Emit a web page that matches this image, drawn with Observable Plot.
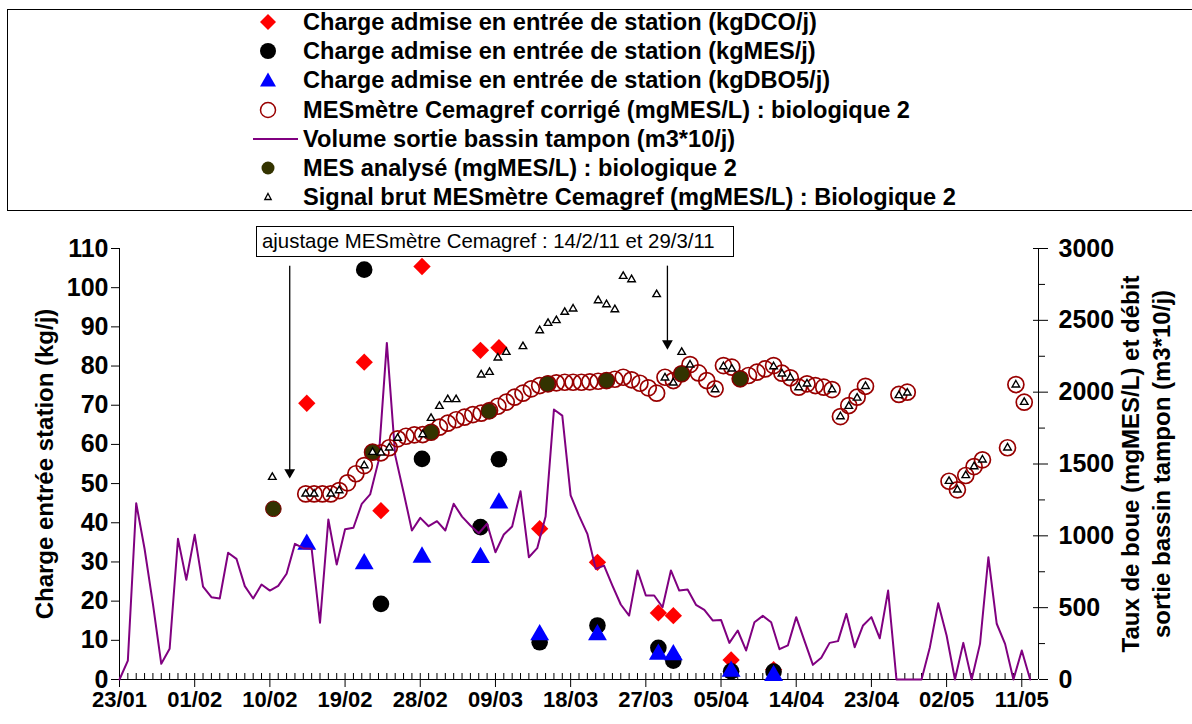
<!DOCTYPE html>
<html><head><meta charset="utf-8">
<script src="https://cdn.jsdelivr.net/npm/d3@7"></script>
<script src="https://cdn.jsdelivr.net/npm/@observablehq/plot@0.6"></script>
<style>
body{margin:0;background:#fff;}
#wrap{position:relative;width:1192px;height:724px;overflow:hidden;background:#fff;font-family:"Liberation Sans",Arial,sans-serif;color:#000;}
#legend{position:absolute;left:7px;top:9px;width:1300px;height:202px;border:1px solid #000;box-sizing:border-box;}
.row{position:absolute;left:0;height:28px;width:1200px;}
.row svg{position:absolute;left:240px;top:0;}
.row span{position:absolute;left:295px;top:0;line-height:28px;font-size:23.6px;font-weight:bold;white-space:nowrap;}
#note{position:absolute;left:256px;top:226px;width:478px;height:31px;border:1px solid #000;box-sizing:border-box;background:#fff;font-size:20.4px;line-height:29px;padding-left:5px;white-space:nowrap;}
</style></head>
<body>
<div id="wrap">
  <div id="legend"></div>
  <div id="chart"></div>
  <div id="note">ajustage MESmètre Cemagref : 14/2/11 et 29/3/11</div>
</div>
<script>
// ---------- axis ticks ----------
const xStart = "2011-01-23", xEnd = "2011-05-13";
const xTickDates = ["2011-01-23","2011-02-01","2011-02-10","2011-02-19","2011-02-28","2011-03-09","2011-03-18","2011-03-27","2011-04-05","2011-04-14","2011-04-23","2011-05-02","2011-05-11"];
const xTickLabels = ["23/01","01/02","10/02","19/02","28/02","09/03","18/03","27/03","05/04","14/04","23/04","02/05","11/05"];
const leftTicks = [0,10,20,30,40,50,60,70,80,90,100,110];
const rightTicks = [0,500,1000,1500,2000,2500,3000];
const rightMinorTicks = [250,750,1250,1750,2250,2750];

// ---------- left axis series (kg/j) ----------
const dcoDates = ["2011-02-14T10:00","2011-02-21T07:00","2011-02-23T07:00","2011-02-28T05:00","2011-03-07T05:00","2011-03-09T10:00","2011-03-14T07:00","2011-03-21T05:00","2011-03-28T12:00","2011-03-30T07:00","2011-04-06T05:00","2011-04-11T07:00"];
const dcoValues = [70.5,81.0,43.1,105.4,84.0,84.7,38.5,29.9,17.0,16.3,5.0,2.5];
const mesDates = ["2011-02-21T07:00","2011-02-23T07:00","2011-02-28T05:00","2011-03-07T05:00","2011-03-09T10:00","2011-03-14T07:00","2011-03-21T05:00","2011-03-28T12:00","2011-03-30T07:00","2011-04-06T05:00","2011-04-11T07:00"];
const mesValues = [104.6,19.3,56.3,38.9,56.2,9.5,13.8,8.1,4.8,2.1,2.0];
const dboDates = ["2011-02-14T10:00","2011-02-21T07:00","2011-02-28T05:00","2011-03-07T05:00","2011-03-09T10:00","2011-03-14T07:00","2011-03-21T05:00","2011-03-28T12:00","2011-03-30T07:00","2011-04-06T05:00","2011-04-11T07:00"];
const dboValues = [34.5,29.5,31.2,31.1,45.0,11.4,11.4,6.4,6.3,2.1,1.0];

// ---------- right axis series ----------
// Volume sortie bassin tampon (m3*10/j), one value per day from volumeStart
const volumeStart = "2011-01-23T00:00";
const volumeValues = [
 0,132,1227,910,527,109,214,979,694,1007,
 647,573,564,882,840,650,564,661,619,652,
 736,944,914,910,395,1114,800,1046,1056,1223,
 1288,1520,2343,1560,1304,1037,1125,1067,1102,1037,
 1223,1134,1072,1018,1084,886,1009,1065,1311,851,
 914,1134,1879,1837,1281,1141,1014,770,793,654,
 522,445,759,585,585,503,759,619,626,520,
 485,411,415,255,341,202,399,443,399,211,
 237,434,267,102,151,255,267,457,225,376,
 434,287,619,0,0,0,0,225,531,306,
 0,255,0,248,851,388,248,0,202,0];
// MESmètre Cemagref corrigé (mgMES/L), one value per day from corrStart (null = no value)
const corrStart = "2011-02-14T07:00";
const corrValues = [
 1292,1292,1292,1292,1315,1369,1432,1489,1582,1578,1613,
 1675,1693,1703,1705,1721,1756,1784,1808,1826,1844,
 1854,1872,1902,1930,1965,1993,2023,2046,2058,2065,
 2069,2069,2069,2072,2076,2081,2090,2104,2086,2062,
 2030,1993,2104,2081,2128,2192,2134,2081,2023,2185,
 2174,2093,2116,2139,2162,2185,2132,2100,2035,2058,
 2046,2035,2018,1830,1907,1965,2041,null,null,null,
 1984,2000,null,null,null,null,1380,1320,1420,1482,
 1529,null,null,1613,2053,1930];
// Signal brut MESmètre Cemagref (mgMES/L), one value per day from brutStart
const brutStart = "2011-02-10T07:00";
const brutValues = [
 1408,null,null,null,1292,
 1292,null,1292,1315,null,null,1489,1582,1578,1613,
 1680,null,null,1705,1819,1902,1949,1949,null,null,
 2121,2139,2239,2278,null,2318,null,2429,2480,2499,
 2557,2580,null,null,2638,2610,2575,2807,2784,null,
 null,2680,2100,2065,2278,2190,null,null,2018,2178,
 2162,null,null,null,null,2178,2128,2100,2032,2058,
 null,null,2018,1830,1902,1960,2041,null,null,null,
 1977,1995,null,null,null,null,1380,1320,1420,1482,
 1529,null,null,1613,2051,1930];
// MES analysé (mgMES/L)
const anaDates = ["2011-02-10T10:00","2011-02-22T07:00","2011-03-01T07:00","2011-03-08T05:00","2011-03-15T05:00","2011-03-22T07:00","2011-03-31T07:00","2011-04-07T07:00"];
const anaValues = [1188,1582,1721,1867,2058,2081,2128,2093];

// ---------- annotation arrows (left axis units) ----------
const arrowDates = ["2011-02-12T09:00","2011-03-29T14:00"];
const arrowTop = [105.5,105.5];
const arrowTip = [51.6,84.5];

// ---------- texts ----------
const leftTitle = "Charge entrée station (kg/j)";
const rightTitle = "Taux de boue (mgMES/L) et débit\nsortie bassin tampon (m3*10/j)";
const legendLabels = [
 "Charge admise en entrée de station (kgDCO/j)",
 "Charge admise en entrée de station (kgMES/j)",
 "Charge admise en entrée de station (kgDBO5/j)",
 "MESmètre Cemagref corrigé (mgMES/L) : biologique 2",
 "Volume sortie bassin tampon (m3*10/j)",
 "MES analysé (mgMES/L) : biologique 2",
 "Signal brut MESmètre Cemagref (mgMES/L) : Biologique 2"];

// ---------- build ----------
const D = s => new Date(s.length === 10 ? s + "T00:00:00Z" : s + ":00Z");
const FONT = '"Liberation Sans", Arial, sans-serif';
const xDomain = [D(xStart), D(xEnd)];
const majorDates = xTickDates.map(D);
const labelOf = new Map(majorDates.map((d, i) => [+d, xTickLabels[i]]));
const minorDates = d3.utcDay.range(D(xStart), d3.utcDay.offset(D(xEnd), 1));

const pts = (dates, vals) => dates.map((d, i) => ({x: D(d), y: vals[i]}));
const daily = (start, vals) => vals.map((v, i) => ({x: d3.utcDay.offset(D(start), i), y: v})).filter(d => d.y != null);

const dco = pts(dcoDates, dcoValues);
const mes = pts(mesDates, mesValues);
const dbo = pts(dboDates, dboValues);
const volume = daily(volumeStart, volumeValues);
const corr = daily(corrStart, corrValues);
const brut = daily(brutStart, brutValues);
const ana = pts(anaDates, anaValues);
const arrows = arrowDates.map((d, i) => ({x: D(d), top: arrowTop[i], tip: arrowTip[i]}));

const common = {
  width: 1192, height: 504,
  marginLeft: 119, marginRight: 154, marginTop: 28, marginBottom: 45,
  style: {fontFamily: FONT, fontWeight: "bold", color: "#000", background: "transparent", overflow: "visible"}
};

const leftPlot = Plot.plot({
  ...common,
  x: {type: "utc", domain: xDomain, axis: null},
  y: {domain: [0, 110], axis: null},
  marks: [
    Plot.axisY(leftTicks, {anchor: "left", tickSize: 8, tickPadding: 3, fontSize: 25, fontWeight: "bold", label: null}),
    Plot.axisX(majorDates, {anchor: "bottom", tickSize: 8, tickPadding: 4, fontSize: 22, fontWeight: "bold", tickFormat: d => labelOf.get(+d), label: null}),
    Plot.ruleX(minorDates, {x: d => d, y1: 0, y2: 0, insetTop: -6, stroke: "#000"}),
    Plot.ruleY([0], {stroke: "#000"}),
    Plot.ruleX([xDomain[0]], {stroke: "#000"}),
    Plot.dot(dco, {x: "x", y: "y", symbol: "diamond2", r: 7.8, fill: "#ff0000"}),
    Plot.dot(mes, {x: "x", y: "y", symbol: "circle", r: 8.3, fill: "#000"}),
    Plot.dot(dbo, {x: "x", y: "y", symbol: "triangle", r: 7.0, fill: "#0000ff"}),
    Plot.text([leftTitle], {frameAnchor: "left", dx: -74, rotate: -90, textAnchor: "middle", fontSize: 24, fontWeight: "bold"})
  ]
});

const rightPlot = Plot.plot({
  ...common,
  x: {type: "utc", domain: xDomain, axis: null},
  y: {domain: [0, 3000], axis: null},
  marks: [
    Plot.axisY(rightTicks, {anchor: "right", tickSize: 9, tickPadding: 11, fontSize: 25, fontWeight: "bold", tickFormat: d => String(d), label: null}),
    Plot.axisY(rightMinorTicks, {anchor: "right", tickSize: 6, tickFormat: () => "", label: null}),
    Plot.ruleY(rightTicks, {y: d => d, x1: xDomain[1], x2: xDomain[1], insetLeft: -5, stroke: "#000"}),
    Plot.ruleX([xDomain[1]], {stroke: "#000"}),
    Plot.line(volume, {x: "x", y: "y", stroke: "#800080", strokeWidth: 2}),
    Plot.dot(corr, {x: "x", y: "y", r: 8, stroke: "#990000", strokeWidth: 1.7, fill: "none"}),
    Plot.dot(ana, {x: "x", y: "y", r: 7.8, fill: "#333300", stroke: "#800000", strokeWidth: 1}),
    Plot.dot(brut, {x: "x", y: "y", symbol: "triangle", r: 2.8, fill: "#fff", stroke: "#000", strokeWidth: 1.4}),
    Plot.text([rightTitle], {frameAnchor: "right", dx: 106, rotate: -90, textAnchor: "middle", fontSize: 24, fontWeight: "bold", lineHeight: 1.3})
  ]
});

// arrows on top (left scale)
const arrowPlot = Plot.plot({
  ...common,
  x: {type: "utc", domain: xDomain, axis: null},
  y: {domain: [0, 110], axis: null},
  marks: [
    Plot.ruleX(arrows, {x: "x", y1: "top", y2: "tip", stroke: "#000", strokeWidth: 1.3}),
    Plot.dot(arrows, {x: "x", y: "tip", dy: -5, symbol: "triangle", rotate: 180, r: 4, fill: "#000"})
  ]
});

const chart = document.getElementById("chart");
[leftPlot, rightPlot, arrowPlot].forEach(p => { p.style.position = "absolute"; p.style.left = "0px"; p.style.top = "220px"; chart.appendChild(p); });

// legend (HTML)
const swatches = [
 `<path d="M20,6 L28,14 L20,22 L12,14Z" fill="#ff0000"/>`,
 `<circle cx="20" cy="14" r="8" fill="#000"/>`,
 `<path d="M20,6.5 L28,20.5 L12,20.5Z" fill="#0000ff"/>`,
 `<circle cx="20" cy="14" r="7.5" fill="none" stroke="#990000" stroke-width="1.5"/>`,
 `<line x1="5" y1="14" x2="50" y2="14" stroke="#800080" stroke-width="2"/>`,
 `<circle cx="20" cy="14" r="6.5" fill="#333300"/>`,
 `<path d="M20,10.5 L23.2,16.5 L16.8,16.5Z" fill="#fff" stroke="#000" stroke-width="1.3"/>`
];
const legend = document.getElementById("legend");
legendLabels.forEach((lab, i) => {
  const row = document.createElement("div");
  row.className = "row";
  row.style.top = (22 + 29.2 * i - 24) + "px";
  row.innerHTML = `<svg width="56" height="28" viewBox="0 0 56 28">${swatches[i]}</svg><span></span>`;
  row.querySelector("span").textContent = lab;
  legend.appendChild(row);
});
</script>
</body></html>
